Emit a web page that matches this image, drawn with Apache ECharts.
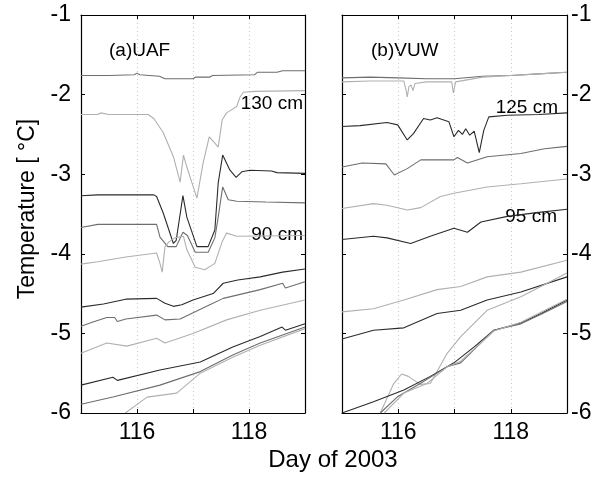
<!DOCTYPE html>
<html lang="en">
<head>
    <meta charset="UTF-8">
    <title>UAF / VUW temperatures</title>
    <script src="https://cdn.jsdelivr.net/npm/echarts@6/dist/echarts.min.js"></script>
    <style>
        body { margin: 0; background: #fff; }
    </style>
</head>
<body>
    <div id="main" style="width: 600px;height: 477px;"></div>
    <script>
        // x ticks and labels
        var dayTicks = [115, 116, 117, 118, 119];
        var dayLabels = ['', '116', '', '118', ''];

        // (a) UAF, top to bottom: [day, temperature]
        var uaf1 = [[115, -1.76], [115.5, -1.76], [115.95, -1.75], [116.0, -1.73], [116.05, -1.75], [116.4, -1.77], [116.5, -1.80], [117.0, -1.80], [117.05, -1.78], [117.3, -1.78], [117.35, -1.76], [118.1, -1.75], [118.15, -1.72], [118.5, -1.72], [118.6, -1.70], [119, -1.70]];
        var uaf2 = [[115, -2.25], [115.3, -2.25], [115.35, -2.23], [115.5, -2.25], [116.2, -2.25], [116.3, -2.30], [116.47, -2.48], [116.65, -2.78], [116.77, -3.10], [116.83, -2.76], [116.89, -2.91], [117.07, -3.30], [117.18, -2.86], [117.29, -2.53], [117.39, -2.61], [117.45, -2.66], [117.52, -2.32], [117.6, -2.23], [117.78, -2.15], [117.84, -2.03], [117.9, -1.97], [118.1, -1.96], [119, -1.95]];
        var uaf3 = [[115, -3.27], [115.3, -3.26], [116.3, -3.26], [116.35, -3.28], [116.47, -3.49], [116.65, -3.87], [116.7, -3.83], [116.82, -3.27], [116.89, -3.54], [117.07, -3.91], [117.27, -3.91], [117.39, -3.70], [117.45, -3.11], [117.53, -2.76], [117.66, -2.95], [117.77, -3.04], [117.87, -2.97], [118.02, -2.95], [118.4, -2.96], [118.5, -2.98], [119, -2.99]];
        var uaf4 = [[115, -3.67], [115.3, -3.63], [116.35, -3.63], [116.41, -3.79], [116.55, -3.91], [116.7, -3.91], [116.82, -3.73], [116.9, -3.77], [117.04, -3.98], [117.27, -3.98], [117.39, -3.80], [117.45, -3.54], [117.53, -3.16], [117.63, -3.32], [117.78, -3.34], [118.3, -3.35], [119, -3.36]];
        var uaf5 = [[115, -4.13], [115.3, -4.10], [115.8, -4.04], [116.35, -3.99], [116.41, -4.12], [116.45, -4.23], [116.5, -3.91], [116.57, -3.85], [116.68, -3.80], [116.83, -3.78], [116.89, -3.95], [117.04, -4.17], [117.21, -4.20], [117.39, -4.12], [117.52, -3.85], [117.6, -3.74], [117.78, -3.78], [119, -3.77]];
        var uaf6 = [[115, -4.67], [115.4, -4.63], [115.8, -4.57], [116.35, -4.56], [116.5, -4.62], [116.65, -4.66], [116.8, -4.64], [117.0, -4.58], [117.36, -4.50], [117.54, -4.37], [117.8, -4.33], [118.2, -4.29], [118.6, -4.23], [119, -4.19]];
        var uaf7 = [[115, -4.91], [115.2, -4.86], [115.46, -4.80], [115.6, -4.80], [115.65, -4.85], [115.8, -4.82], [116.35, -4.77], [116.5, -4.83], [116.77, -4.82], [117.3, -4.64], [117.54, -4.56], [118.2, -4.45], [118.6, -4.37], [118.65, -4.43], [119, -4.35]];
        var uaf8 = [[115, -5.25], [115.46, -5.12], [115.82, -5.16], [116.35, -5.06], [116.5, -5.12], [117.0, -5.0], [117.6, -4.83], [118.2, -4.71], [119, -4.58]];
        var uaf9 = [[115, -5.65], [115.57, -5.55], [115.65, -5.59], [116.41, -5.46], [117.13, -5.36], [117.71, -5.17], [118.2, -5.04], [118.59, -4.92], [118.65, -4.96], [119, -4.88]];
        var uaf10 = [[115, -5.89], [115.57, -5.80], [116.41, -5.65], [117.13, -5.48], [117.71, -5.27], [118.2, -5.12], [119, -4.92]];
        var uaf11 = [[115.79, -6.0], [116.18, -5.80], [116.71, -5.75], [117.13, -5.50], [117.71, -5.30], [118.2, -5.15], [119, -4.94]];

        // (b) VUW, top to bottom
        var vuw1 = [[115, -1.79], [115.5, -1.78], [116, -1.79], [116.5, -1.80], [117, -1.80], [117.5, -1.77], [118, -1.76], [118.5, -1.74], [119, -1.72]];
        var vuw2 = [[115, -1.84], [115.5, -1.83], [116.1, -1.83], [116.14, -1.95], [116.16, -2.03], [116.19, -1.90], [116.23, -1.88], [116.26, -1.95], [116.3, -1.86], [116.5, -1.84], [116.95, -1.84], [116.98, -1.98], [117.02, -1.84], [117.5, -1.78], [118, -1.76], [118.5, -1.74], [119, -1.72]];
        var vuw3 = [[115, -2.40], [115.32, -2.39], [115.8, -2.35], [115.99, -2.38], [116.16, -2.57], [116.27, -2.49], [116.45, -2.30], [116.57, -2.32], [116.69, -2.29], [116.9, -2.34], [116.99, -2.53], [117.07, -2.45], [117.14, -2.50], [117.2, -2.43], [117.27, -2.51], [117.35, -2.46], [117.44, -2.73], [117.52, -2.45], [117.61, -2.28], [117.94, -2.26], [118.5, -2.25], [119, -2.23]];
        var vuw4 = [[115, -2.91], [115.36, -2.86], [115.78, -2.87], [115.93, -3.01], [116.16, -2.93], [116.4, -2.82], [116.99, -2.82], [117.05, -2.79], [117.23, -2.86], [117.58, -2.78], [118.18, -2.74], [118.6, -2.68], [119, -2.65]];
        var vuw5 = [[115, -3.43], [115.56, -3.37], [115.8, -3.39], [116.16, -3.45], [116.4, -3.42], [116.75, -3.28], [116.99, -3.24], [117.58, -3.16], [118.18, -3.12], [119, -3.06]];
        var vuw6 = [[115, -3.82], [115.56, -3.78], [115.8, -3.80], [116.22, -3.87], [116.57, -3.78], [116.99, -3.68], [117.23, -3.73], [117.47, -3.60], [117.94, -3.53], [118.5, -3.48], [119, -3.44]];
        var vuw7 = [[115, -4.73], [115.56, -4.69], [116.1, -4.58], [116.69, -4.45], [117.11, -4.41], [117.58, -4.29], [118.18, -4.23], [119, -4.08]];
        var vuw8 = [[115, -5.07], [115.56, -4.96], [116.1, -4.93], [116.69, -4.75], [117.11, -4.71], [117.58, -4.58], [118.18, -4.48], [119, -4.29]];
        var vuw9 = [[115.68, -6.0], [115.92, -5.63], [116.06, -5.51], [116.18, -5.54], [116.39, -5.64], [116.57, -5.63], [116.87, -5.25], [117.11, -5.04], [117.58, -4.71], [118.18, -4.54], [119, -4.24]];
        var vuw10 = [[115, -6.0], [115.56, -5.86], [116.1, -5.71], [116.57, -5.54], [116.99, -5.37], [117.35, -5.17], [117.7, -4.96], [118.18, -4.87], [118.54, -4.75], [119, -4.58]];
        var vuw11 = [[115.68, -6.0], [115.98, -5.80], [116.39, -5.63], [116.87, -5.42], [117.11, -5.37], [117.7, -4.96], [118.18, -4.88], [118.54, -4.76], [119, -4.60]];
        var vuw12 = [[115.75, -6.0], [116.1, -5.75], [116.51, -5.63], [116.87, -5.42], [117.11, -5.35], [117.7, -4.97], [118.18, -4.86], [119, -4.57]];

        var DARK = '#2b2b2b', MID = '#6e6e6e', LIGHT = '#b0b0b0';
        var FONT = '"Liberation Sans", Arial, sans-serif';

        var uafLines = [[uaf1, MID], [uaf2, LIGHT], [uaf3, DARK], [uaf4, MID], [uaf5, LIGHT], [uaf6, DARK], [uaf7, MID], [uaf8, LIGHT], [uaf9, DARK], [uaf10, MID], [uaf11, LIGHT]];
        var vuwLines = [[vuw1, MID], [vuw2, LIGHT], [vuw3, DARK], [vuw4, MID], [vuw5, LIGHT], [vuw6, DARK], [vuw7, LIGHT], [vuw8, DARK], [vuw9, LIGHT], [vuw10, DARK], [vuw11, MID], [vuw12, LIGHT]];

        var chart = echarts.init(document.getElementById('main'));

        function xAxisFor(grid, pos) {
            var bottom = pos === 'bottom';
            return {
                type: 'value', gridIndex: grid, position: pos,
                min: dayTicks[0], max: dayTicks[dayTicks.length - 1], interval: 1,
                axisLine: { show: true, onZero: false, lineStyle: { color: '#000', width: 1.2 } },
                axisTick: { show: true, inside: true, length: 4, lineStyle: { color: '#000' } },
                axisLabel: {
                    show: bottom, margin: 8, fontSize: 23, color: '#000', fontFamily: FONT,
                    showMinLabel: true, showMaxLabel: true,
                    formatter: function (v) { return dayLabels[dayTicks.indexOf(v)] || ''; }
                },
                splitLine: { show: bottom, lineStyle: { color: '#c8c8c8', type: [1, 3], width: 1 } }
            };
        }

        function yAxisFor(grid, pos, labels) {
            return {
                type: 'value', gridIndex: grid, position: pos,
                min: -6, max: -1, interval: 1,
                axisLine: { show: true, onZero: false, lineStyle: { color: '#000', width: 1.2 } },
                axisTick: { show: true, inside: true, length: 4, lineStyle: { color: '#000' } },
                axisLabel: { show: labels, margin: pos === 'left' ? 10 : 4, fontSize: 23, color: '#000', fontFamily: FONT },
                splitLine: { show: false }
            };
        }

        var series = [];
        uafLines.forEach(function (l) {
            series.push({ type: 'line', xAxisIndex: 0, yAxisIndex: 0, data: l[0], symbol: 'none', clip: true, lineStyle: { color: l[1], width: 1.1 } });
        });
        vuwLines.forEach(function (l) {
            series.push({ type: 'line', xAxisIndex: 1, yAxisIndex: 3, data: l[0], symbol: 'none', clip: true, lineStyle: { color: l[1], width: 1.1 } });
        });

        function label(text, x, y, align) {
            return { type: 'text', x: x, y: y, style: { text: text, fill: '#000', font: '19px ' + FONT, textAlign: align, textVerticalAlign: 'middle' } };
        }

        var option = {
            animation: false,
            backgroundColor: '#fff',
            grid: [
                { left: 81, top: 15, width: 224, height: 398 },
                { left: 342, top: 15, width: 225, height: 398 }
            ],
            xAxis: [xAxisFor(0, 'bottom'), xAxisFor(1, 'bottom'), xAxisFor(0, 'top'), xAxisFor(1, 'top')],
            yAxis: [yAxisFor(0, 'left', true), yAxisFor(0, 'right', false), yAxisFor(1, 'left', false), yAxisFor(1, 'right', true)],
            series: series,
            graphic: [
                label('(a)UAF', 109, 51, 'left'),
                label('(b)VUW', 371, 51, 'left'),
                label('130 cm', 303, 104, 'right'),
                label('90 cm', 303, 235, 'right'),
                label('125 cm', 558, 108, 'right'),
                label('95 cm', 557, 217, 'right'),
                { type: 'text', x: 333, y: 460, style: { text: 'Day of 2003', fill: '#000', font: '24px ' + FONT, textAlign: 'center', textVerticalAlign: 'middle' } },
                { type: 'text', x: 28, y: 209, rotation: Math.PI / 2, style: { text: 'Temperature [ °C]', fill: '#000', font: '23px ' + FONT, textAlign: 'center', textVerticalAlign: 'middle' } }
            ]
        };
        chart.setOption(option);
    </script>
</body>
</html>
